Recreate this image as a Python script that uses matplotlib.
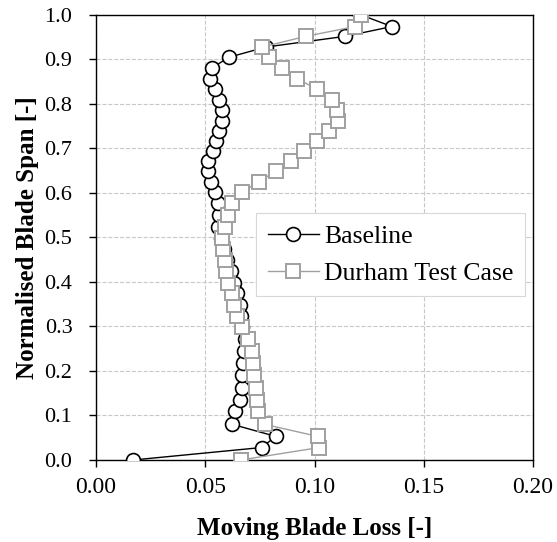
import numpy as np
import matplotlib
matplotlib.use("Agg")
import matplotlib.pyplot as plt

plt.rcParams['font.family'] = ['Liberation Serif', 'DejaVu Serif']

# spanwise stations shared by both cases
span = [0.0, 0.028, 0.053, 0.080, 0.109, 0.135, 0.162, 0.190, 0.217, 0.245,
        0.271, 0.298, 0.324, 0.348, 0.374, 0.398, 0.424, 0.449, 0.473, 0.498,
        0.524, 0.551, 0.577, 0.601, 0.625, 0.648, 0.671, 0.693, 0.716, 0.739,
        0.762, 0.785, 0.809, 0.832, 0.856, 0.880, 0.904, 0.927, 0.951, 0.973,
        1.0]

loss_baseline = [0.0170, 0.0758, 0.0822, 0.0624, 0.0636, 0.0659, 0.0669, 0.0669,
                 0.0674, 0.0677, 0.0682, 0.0670, 0.0663, 0.0657, 0.0646, 0.0631,
                 0.0616, 0.0601, 0.0586, 0.0572, 0.0560, 0.0565, 0.0560, 0.0544,
                 0.0526, 0.0511, 0.0514, 0.0535, 0.0548, 0.0563, 0.0578, 0.0575,
                 0.0563, 0.0544, 0.0520, 0.0530, 0.0608, 0.0777, 0.1140, 0.1354,
                 0.1208]

loss_durham = [0.0662, 0.1022, 0.1014, 0.0772, 0.0743, 0.0737, 0.0732, 0.0723,
               0.0720, 0.0715, 0.0694, 0.0667, 0.0646, 0.0633, 0.0621, 0.0606,
               0.0596, 0.0590, 0.0582, 0.0578, 0.0590, 0.0605, 0.0624, 0.0670,
               0.0745, 0.0822, 0.0891, 0.0953, 0.1012, 0.1066, 0.1108, 0.1104,
               0.1078, 0.1012, 0.0921, 0.0852, 0.0791, 0.0761, 0.0959, 0.1185,
               0.1212]

fig = plt.figure(figsize=(5.57, 5.42), dpi=100)
ax = fig.add_axes([0.1724, 0.1513, 0.7846, 0.8219])

ax.plot(loss_baseline, span, '-o', color='black', lw=1.0,
        markersize=10, markerfacecolor='white', markeredgecolor='black',
        markeredgewidth=1.2, label='Baseline', zorder=3)
ax.plot(loss_durham, span, '-s', color='#a0a0a0', lw=1.0,
        markersize=9.5, markerfacecolor='white', markeredgecolor='#a0a0a0',
        markeredgewidth=1.4, label='Durham Test Case', zorder=4)

ax.set_xlim(0.0, 0.20)
ax.set_ylim(0.0, 1.0)
ax.set_xticks(np.arange(0, 0.201, 0.05))
ax.set_yticks(np.arange(0, 1.01, 0.1))
ax.xaxis.set_major_formatter(matplotlib.ticker.FormatStrFormatter('%.2f'))
ax.yaxis.set_major_formatter(matplotlib.ticker.FormatStrFormatter('%.1f'))
ax.tick_params(direction='out', length=5, width=1, labelsize=16)
ax.tick_params(axis='x', pad=7, labelsize=17)
ax.tick_params(axis='y', pad=12)
ax.grid(True, linestyle='--', color='#c8c8c8', linewidth=0.8, zorder=0)
ax.set_axisbelow(True)
for s in ax.spines.values():
    s.set_linewidth(1.0)

ax.set_xlabel('Moving Blade Loss [-]', fontsize=18, fontweight='bold', labelpad=14)
ax.set_ylabel('Normalised Blade Span [-]', fontsize=18, fontweight='bold', labelpad=4)

leg = ax.legend(loc='center right', bbox_to_anchor=(0.982, 0.461), fontsize=18.5,
                handlelength=2.0, handletextpad=0.2, borderpad=0.45,
                labelspacing=0.55, borderaxespad=0, fancybox=False,
                framealpha=1.0)
leg.get_frame().set_edgecolor('#d8d8d8')
leg.get_frame().set_linewidth(0.8)

fig.savefig('out.png', dpi=100)
